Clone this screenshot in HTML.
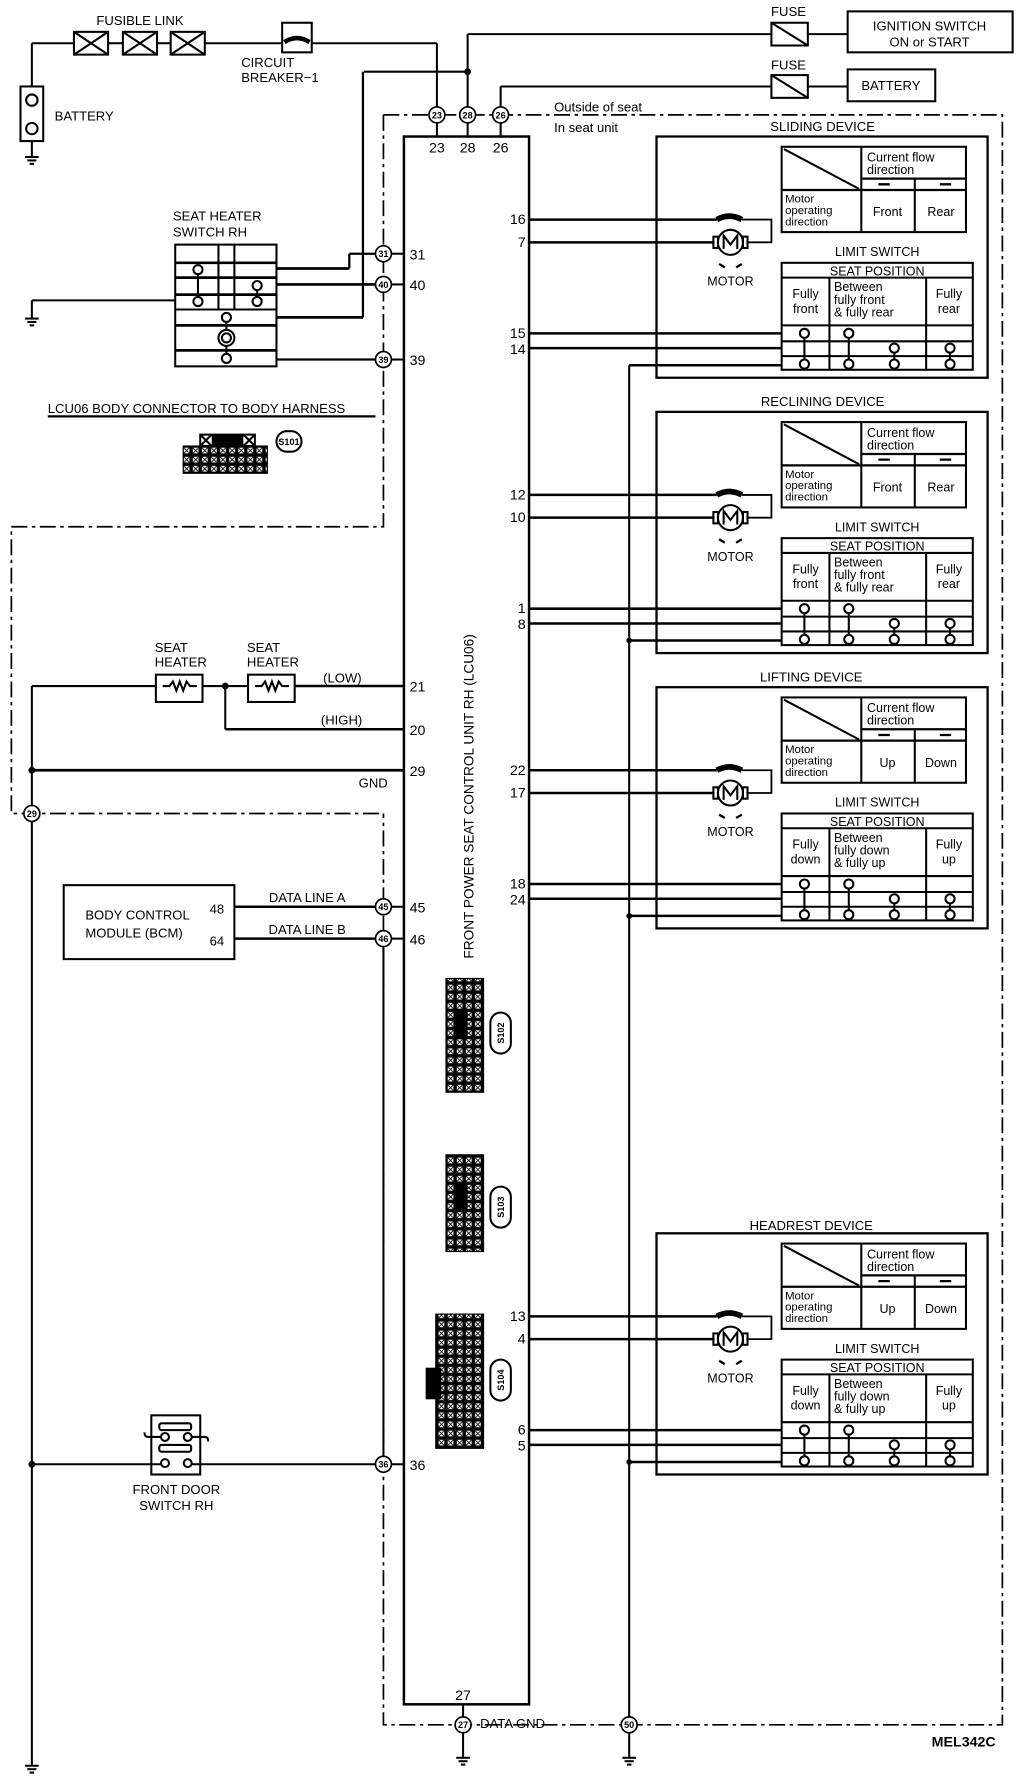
<!DOCTYPE html>
<html><head><meta charset="utf-8"><style>
html,body{margin:0;padding:0;background:#fff}
svg{display:block}
text{font-family:"Liberation Sans",sans-serif;fill:#000}
</style></head><body>
<svg width="1024" height="1776" viewBox="0 0 900 1561" preserveAspectRatio="none" xmlns="http://www.w3.org/2000/svg">
<defs>
<pattern id="cells" width="8" height="8" patternUnits="userSpaceOnUse">
<rect width="8" height="8" fill="#000"/><rect x="1.5" y="1.5" width="5" height="5" fill="#fff"/>
<path d="M1.5 1.5L6.5 6.5M6.5 1.5L1.5 6.5" stroke="#000" stroke-width="0.8"/>
</pattern>
</defs>
<g stroke="#000" fill="none" stroke-width="1.8">
<!-- battery -->
<rect x="18" y="76" width="20" height="48"/>
<line x1="28" y1="76" x2="28" y2="38"/><line x1="28" y1="38" x2="65" y2="38"/>
<line x1="28" y1="124" x2="28" y2="138"/>
<line x1="22" y1="138" x2="34" y2="138"/><line x1="24" y1="141" x2="32" y2="141"/><line x1="26" y1="144" x2="30" y2="144"/>
<circle cx="28" cy="88" r="5"/><circle cx="28" cy="113" r="5"/>
<!-- fusible link -->
<rect x="65" y="28" width="30" height="20"/><path d="M65 28L95 48M95 28L65 48"/>
<line x1="95" y1="38" x2="108" y2="38"/>
<rect x="108" y="28" width="30" height="20"/><path d="M108 28L138 48M138 28L108 48"/>
<line x1="138" y1="38" x2="150" y2="38"/>
<rect x="150" y="28" width="30" height="20"/><path d="M150 28L180 48M180 28L150 48"/>
<line x1="180" y1="38" x2="248" y2="38"/>
<rect x="248" y="20" width="26" height="26"/>
<path d="M250 37 Q261 30 272 37" stroke-width="4"/>
<line x1="274" y1="38" x2="384" y2="38"/><line x1="384" y1="38" x2="384" y2="94"/>
<!-- ignition -->
<line x1="411" y1="94" x2="411" y2="30"/><line x1="411" y1="30" x2="678" y2="30"/>
<rect x="678" y="20" width="32" height="20"/><line x1="678" y1="20" x2="710" y2="40"/>
<line x1="710" y1="30" x2="745" y2="30"/>
<rect x="745" y="10" width="145" height="36"/>
<line x1="320" y1="63" x2="411" y2="63"/>
<!-- battery 2 -->
<line x1="440" y1="94" x2="440" y2="76"/><line x1="440" y1="76" x2="678" y2="76"/>
<rect x="678" y="66" width="32" height="20"/><line x1="678" y1="66" x2="710" y2="86"/>
<line x1="710" y1="76" x2="745" y2="76"/>
<rect x="745" y="61" width="77" height="28"/>
<!-- dashed boundary -->
<g stroke-dasharray="14,4,3,4" stroke-width="1.5">
<path d="M337 101H881V1516H337V715M337 101V463H10V715H337"/>
</g>
<line x1="384" y1="108" x2="384" y2="120"/><line x1="411" y1="108" x2="411" y2="120"/><line x1="440" y1="108" x2="440" y2="120"/>
<!-- control unit -->
<rect x="355" y="120" width="110" height="1378" stroke-width="2.2"/>
<!-- seat heater switch -->
<rect x="154" y="215" width="89" height="107"/>
<line x1="154" y1="231" x2="243" y2="231" stroke-width="2.4"/>
<line x1="154" y1="244" x2="243" y2="244" stroke-width="2.4"/>
<line x1="154" y1="259" x2="243" y2="259" stroke-width="2.4"/>
<line x1="154" y1="272" x2="243" y2="272"/>
<line x1="154" y1="286" x2="243" y2="286" stroke-width="2.4"/>
<line x1="154" y1="308" x2="243" y2="308" stroke-width="2.4"/>
<line x1="192" y1="215" x2="192" y2="272"/><line x1="206" y1="215" x2="206" y2="272"/>
<circle cx="174" cy="237" r="4"/><line x1="174" y1="241" x2="174" y2="261"/><circle cx="174" cy="265" r="4"/>
<circle cx="226" cy="251" r="4"/><line x1="226" y1="255" x2="226" y2="261"/><circle cx="226" cy="265" r="4"/>
<circle cx="199" cy="279" r="4"/><line x1="199" y1="283" x2="199" y2="315"/><circle cx="199" cy="297" r="7" fill="#fff"/><circle cx="199" cy="297" r="4"/><circle cx="199" cy="315" r="4" fill="#fff"/>
<line x1="28" y1="264" x2="154" y2="264"/><line x1="28" y1="264" x2="28" y2="280"/>
<line x1="22" y1="280" x2="34" y2="280"/><line x1="24" y1="283" x2="32" y2="283"/><line x1="26" y1="286" x2="30" y2="286"/>
<line x1="243" y1="236" x2="307" y2="236" stroke-width="2.4"/><line x1="307" y1="236" x2="307" y2="223" stroke-width="2"/><line x1="307" y1="223" x2="330" y2="223" stroke-width="2"/>
<line x1="243" y1="250" x2="330" y2="250" stroke-width="2.4"/>
<line x1="243" y1="279" x2="319" y2="279" stroke-width="2.4"/><line x1="319" y1="279" x2="319" y2="63" stroke-width="2"/>
<line x1="243" y1="316" x2="330" y2="316" stroke-width="2"/>
<line x1="344" y1="223" x2="355" y2="223"/><line x1="344" y1="250" x2="355" y2="250"/><line x1="344" y1="316" x2="355" y2="316"/>
<line x1="42" y1="366" x2="330" y2="366" stroke-width="2"/>
<!-- S101 connector -->
<rect x="176" y="382" width="48" height="10"/><rect x="187" y="383" width="26" height="8" fill="#000"/>
<path d="M176 382L186 392M186 382L176 392M214 382L224 392M224 382L214 392"/>
<rect x="161" y="392" width="74" height="24" fill="url(#cells)" stroke-width="1"/>
<rect x="243" y="379" width="22" height="18" rx="9"/>
<!-- seat heaters -->
<line x1="28" y1="603" x2="28" y2="1552"/>
<line x1="28" y1="603" x2="137" y2="603"/>
<rect x="137" y="593" width="41" height="24"/>
<path d="M143 603h6l3-4 3 8 3-8 3 8 3-8 3 4h6"/>
<line x1="178" y1="603" x2="218" y2="603"/>
<rect x="218" y="593" width="41" height="24"/>
<path d="M224 603h6l3-4 3 8 3-8 3 8 3-8 3 4h6"/>
<line x1="259" y1="603" x2="355" y2="603" stroke-width="2.2"/>
<line x1="198" y1="603" x2="198" y2="641"/><line x1="198" y1="641" x2="355" y2="641" stroke-width="2.2"/>
<line x1="28" y1="677" x2="355" y2="677" stroke-width="2.4"/>
<!-- BCM -->
<rect x="56" y="778" width="150" height="65"/>
<line x1="206" y1="797" x2="330" y2="797" stroke-width="2.2"/><line x1="344" y1="797" x2="355" y2="797"/>
<line x1="206" y1="825" x2="330" y2="825" stroke-width="2.2"/><line x1="344" y1="825" x2="355" y2="825"/>
<line x1="337" y1="832" x2="337" y2="1280"/>
<!-- door switch -->
<rect x="133" y="1244" width="43" height="52"/>
<rect x="140" y="1251" width="28" height="6" rx="2"/><rect x="140" y="1270" width="28" height="6" rx="2"/>
<circle cx="145" cy="1263" r="3.5"/><circle cx="165" cy="1263" r="3.5"/>
<circle cx="145" cy="1286" r="3.5"/><circle cx="165" cy="1286" r="3.5"/>
<path d="M141 1263H130q-3 0-3-4M169 1263H180q3 0 3 4"/>
<line x1="28" y1="1287" x2="141" y2="1287"/><line x1="169" y1="1287" x2="330" y2="1287"/><line x1="344" y1="1287" x2="355" y2="1287"/>
<!-- connectors S102-S104 -->
<rect x="392" y="860" width="33" height="100" fill="url(#cells)" stroke-width="1"/>
<rect x="400" y="890" width="10" height="22" fill="#000"/>
<rect x="392" y="1015" width="33" height="85" fill="url(#cells)" stroke-width="1"/>
<rect x="400" y="1040" width="10" height="24" fill="#000"/>
<rect x="383" y="1155" width="42" height="118" fill="url(#cells)" stroke-width="1"/>
<rect x="375" y="1203" width="12" height="26" fill="#000"/>
<rect x="431" y="890" width="18" height="36" rx="9"/>
<rect x="431" y="1043" width="18" height="36" rx="9"/>
<rect x="431" y="1195" width="18" height="36" rx="9"/>
<!-- bottom grounds -->
<line x1="407" y1="1498" x2="407" y2="1509"/><line x1="407" y1="1523" x2="407" y2="1545"/>
<line x1="401" y1="1545" x2="413" y2="1545"/><line x1="403" y1="1548" x2="411" y2="1548"/><line x1="405" y1="1551" x2="409" y2="1551"/>
<line x1="553" y1="321" x2="553" y2="1509"/><line x1="553" y1="1523" x2="553" y2="1545"/>
<line x1="547" y1="1545" x2="559" y2="1545"/><line x1="549" y1="1548" x2="557" y2="1548"/><line x1="551" y1="1551" x2="555" y2="1551"/>
<line x1="22" y1="1552" x2="34" y2="1552"/><line x1="24" y1="1555" x2="32" y2="1555"/><line x1="26" y1="1558" x2="30" y2="1558"/>
</g>
<g fill="#000"><circle cx="411" cy="63" r="3"/><circle cx="198" cy="603" r="3"/><circle cx="28" cy="677" r="3"/><circle cx="28" cy="1287" r="3"/>
<circle cx="553" cy="563" r="2.5"/><circle cx="553" cy="805" r="2.5"/><circle cx="553" cy="1285" r="2.5"/></g>
<g stroke="#000" fill="#fff" stroke-width="1.5">
<circle cx="384" cy="101" r="7"/><circle cx="411" cy="101" r="7"/><circle cx="440" cy="101" r="7"/>
<circle cx="337" cy="223" r="7"/><circle cx="337" cy="250" r="7"/><circle cx="337" cy="316" r="7"/>
<circle cx="28" cy="715" r="7"/><circle cx="337" cy="797" r="7"/><circle cx="337" cy="825" r="7"/><circle cx="337" cy="1287" r="7"/>
<circle cx="407" cy="1516" r="7"/><circle cx="553" cy="1516" r="7"/>
</g>
<g font-size="8" text-anchor="middle" font-weight="bold">
<text x="384" y="104">23</text><text x="411" y="104">28</text><text x="440" y="104">26</text>
<text x="337" y="226">31</text><text x="337" y="253">40</text><text x="337" y="319">39</text>
<text x="28" y="718">29</text><text x="337" y="800">45</text><text x="337" y="828">46</text><text x="337" y="1290">36</text>
<text x="407" y="1519">27</text><text x="553" y="1519">50</text>
<text x="254" y="391">S101</text>
<text transform="translate(443,908) rotate(-90)">S102</text>
<text transform="translate(443,1061) rotate(-90)">S103</text>
<text transform="translate(443,1213) rotate(-90)">S104</text>
</g>
<g font-size="11.5">
<text x="123" y="22" text-anchor="middle">FUSIBLE LINK</text>
<text x="212" y="59">CIRCUIT</text><text x="212" y="72">BREAKER−1</text>
<text x="48" y="106">BATTERY</text>
<text x="693" y="14" text-anchor="middle">FUSE</text><text x="693" y="61" text-anchor="middle">FUSE</text>
<text x="817" y="27" text-anchor="middle">IGNITION SWITCH</text><text x="817" y="41" text-anchor="middle">ON or START</text>
<text x="783" y="79" text-anchor="middle">BATTERY</text>
<text x="487" y="98">Outside of seat</text><text x="487" y="116">In seat unit</text>
<text x="152" y="194">SEAT HEATER</text><text x="152" y="208">SWITCH RH</text>
<text x="42" y="363">LCU06 BODY CONNECTOR TO BODY HARNESS</text>
<text x="136" y="573">SEAT</text><text x="136" y="586">HEATER</text>
<text x="217" y="573">SEAT</text><text x="217" y="586">HEATER</text>
<text x="284" y="600">(LOW)</text><text x="282" y="637">(HIGH)</text>
<text x="328" y="692" text-anchor="middle">GND</text>
<text x="75" y="808">BODY CONTROL</text><text x="75" y="824">MODULE (BCM)</text>
<text x="197" y="803" text-anchor="end">48</text><text x="197" y="831" text-anchor="end">64</text>
<text x="270" y="793" text-anchor="middle">DATA LINE A</text><text x="270" y="821" text-anchor="middle">DATA LINE B</text>
<text x="155" y="1313" text-anchor="middle">FRONT DOOR</text><text x="155" y="1327" text-anchor="middle">SWITCH RH</text>
<text x="422" y="1519">DATA GND</text>
<text x="847" y="1535" text-anchor="middle" font-weight="bold" font-size="12.5">MEL342C</text>
<text transform="translate(416,700) rotate(-90)" text-anchor="middle" font-size="12">FRONT POWER SEAT CONTROL UNIT RH (LCU06)</text>
</g>
<g font-size="12.5">
<text x="384" y="134" text-anchor="middle">23</text><text x="411" y="134" text-anchor="middle">28</text><text x="440" y="134" text-anchor="middle">26</text>
<text x="360" y="228">31</text><text x="360" y="255">40</text><text x="360" y="321">39</text>
<text x="360" y="608">21</text><text x="360" y="646">20</text><text x="360" y="682">29</text>
<text x="360" y="802">45</text><text x="360" y="830">46</text><text x="360" y="1292">36</text>
<text x="407" y="1494" text-anchor="middle">27</text>
</g>

<g id="dev1">
<g stroke="#000" fill="none" stroke-width="1.8">
<rect x="577" y="120" width="291" height="212" stroke-width="2"/>
<rect x="687" y="129" width="162" height="75"/>
<line x1="757" y1="129" x2="757" y2="204"/><line x1="687" y1="167" x2="849" y2="167" stroke-width="2"/>
<line x1="757" y1="157" x2="849" y2="157" stroke-width="2"/><line x1="804" y1="157" x2="804" y2="204"/>
<line x1="689" y1="131" x2="755" y2="166"/>
<path d="M772 162h10M826 162h10" stroke-width="2"/>
<rect x="687" y="231" width="168" height="94"/>
<line x1="687" y1="244" x2="855" y2="244"/>
<line x1="729" y1="244" x2="729" y2="325"/><line x1="814" y1="244" x2="814" y2="325"/>
<line x1="687" y1="286" x2="855" y2="286"/><line x1="687" y1="300" x2="855" y2="300"/><line x1="687" y1="313" x2="855" y2="313"/>
<circle cx="707" cy="293" r="4"/><circle cx="746" cy="293" r="4"/>
<circle cx="786" cy="306" r="4"/><circle cx="835" cy="306" r="4"/>
<circle cx="707" cy="320" r="4"/><circle cx="746" cy="320" r="4"/><circle cx="786" cy="320" r="4"/><circle cx="835" cy="320" r="4"/>
<line x1="707" y1="297" x2="707" y2="316"/><line x1="746" y1="297" x2="746" y2="316"/>
<line x1="786" y1="310" x2="786" y2="316"/><line x1="835" y1="310" x2="835" y2="316"/>
<line x1="465" y1="293" x2="687" y2="293" stroke-width="2.2"/>
<line x1="465" y1="306" x2="687" y2="306" stroke-width="2.2"/>
<line x1="553" y1="321" x2="687" y2="321" stroke-width="2.2"/>
<line x1="465" y1="193" x2="630" y2="193" stroke-width="2.2"/>
<path d="M630 193 q11 -6 22 0" stroke-width="5"/>
<path d="M652 193H678V213H656" stroke-width="1.6"/>
<line x1="465" y1="213" x2="628" y2="213" stroke-width="2.2"/>
<circle cx="642" cy="213" r="11"/>
<rect x="627" y="208" width="4" height="10"/><rect x="653" y="208" width="4" height="10"/>
<path d="M636 219V207l6 8 6-8v12"/>
<path d="M632 232l5 3M652 232l-5 3" stroke-width="2"/>
</g>
</g>
<g font-size="11.5" text-anchor="middle">
<text x="723" y="115">SLIDING DEVICE</text>
<text x="723" y="357">RECLINING DEVICE</text>
<text x="713" y="599">LIFTING DEVICE</text>
<text x="713" y="1081">HEADREST DEVICE</text>
</g>
<g transform="translate(0,242)"><use href="#dev1"/></g>
<g transform="translate(0,484)"><use href="#dev1"/></g>
<g transform="translate(0,964)"><use href="#dev1"/></g>

<g font-size="11">
<g>
<text x="762" y="142">Current flow</text><text x="762" y="153">direction</text>
<text x="690" y="178" font-size="10">Motor</text><text x="690" y="188" font-size="10">operating</text><text x="690" y="198" font-size="10">direction</text>
<text x="780" y="190" text-anchor="middle">Front</text><text x="827" y="190" text-anchor="middle">Rear</text>
<text x="771" y="225" text-anchor="middle">LIMIT SWITCH</text><text x="771" y="242" text-anchor="middle">SEAT POSITION</text>
<text x="708" y="262" text-anchor="middle">Fully</text><text x="708" y="275" text-anchor="middle">front</text>
<text x="733" y="256">Between</text><text x="733" y="267">fully front</text><text x="733" y="278">&amp; fully rear</text>
<text x="834" y="262" text-anchor="middle">Fully</text><text x="834" y="275" text-anchor="middle">rear</text>
<text x="642" y="251" text-anchor="middle">MOTOR</text>
</g>
<g transform="translate(0,242)">
<text x="762" y="142">Current flow</text><text x="762" y="153">direction</text>
<text x="690" y="178" font-size="10">Motor</text><text x="690" y="188" font-size="10">operating</text><text x="690" y="198" font-size="10">direction</text>
<text x="780" y="190" text-anchor="middle">Front</text><text x="827" y="190" text-anchor="middle">Rear</text>
<text x="771" y="225" text-anchor="middle">LIMIT SWITCH</text><text x="771" y="242" text-anchor="middle">SEAT POSITION</text>
<text x="708" y="262" text-anchor="middle">Fully</text><text x="708" y="275" text-anchor="middle">front</text>
<text x="733" y="256">Between</text><text x="733" y="267">fully front</text><text x="733" y="278">&amp; fully rear</text>
<text x="834" y="262" text-anchor="middle">Fully</text><text x="834" y="275" text-anchor="middle">rear</text>
<text x="642" y="251" text-anchor="middle">MOTOR</text>
</g>
<g transform="translate(0,484)">
<text x="762" y="142">Current flow</text><text x="762" y="153">direction</text>
<text x="690" y="178" font-size="10">Motor</text><text x="690" y="188" font-size="10">operating</text><text x="690" y="198" font-size="10">direction</text>
<text x="780" y="190" text-anchor="middle">Up</text><text x="827" y="190" text-anchor="middle">Down</text>
<text x="771" y="225" text-anchor="middle">LIMIT SWITCH</text><text x="771" y="242" text-anchor="middle">SEAT POSITION</text>
<text x="708" y="262" text-anchor="middle">Fully</text><text x="708" y="275" text-anchor="middle">down</text>
<text x="733" y="256">Between</text><text x="733" y="267">fully down</text><text x="733" y="278">&amp; fully up</text>
<text x="834" y="262" text-anchor="middle">Fully</text><text x="834" y="275" text-anchor="middle">up</text>
<text x="642" y="251" text-anchor="middle">MOTOR</text>
</g>
<g transform="translate(0,964)">
<text x="762" y="142">Current flow</text><text x="762" y="153">direction</text>
<text x="690" y="178" font-size="10">Motor</text><text x="690" y="188" font-size="10">operating</text><text x="690" y="198" font-size="10">direction</text>
<text x="780" y="190" text-anchor="middle">Up</text><text x="827" y="190" text-anchor="middle">Down</text>
<text x="771" y="225" text-anchor="middle">LIMIT SWITCH</text><text x="771" y="242" text-anchor="middle">SEAT POSITION</text>
<text x="708" y="262" text-anchor="middle">Fully</text><text x="708" y="275" text-anchor="middle">down</text>
<text x="733" y="256">Between</text><text x="733" y="267">fully down</text><text x="733" y="278">&amp; fully up</text>
<text x="834" y="262" text-anchor="middle">Fully</text><text x="834" y="275" text-anchor="middle">up</text>
<text x="642" y="251" text-anchor="middle">MOTOR</text>
</g>
</g>
<g font-size="12.5" text-anchor="end">
<text x="462" y="197">16</text><text x="462" y="217">7</text><text x="462" y="297">15</text><text x="462" y="311">14</text>
<text x="462" y="439">12</text><text x="462" y="459">10</text><text x="462" y="539">1</text><text x="462" y="553">8</text>
<text x="462" y="681">22</text><text x="462" y="701">17</text><text x="462" y="781">18</text><text x="462" y="795">24</text>
<text x="462" y="1161">13</text><text x="462" y="1181">4</text><text x="462" y="1261">6</text><text x="462" y="1275">5</text>
</g>
</svg>
</body></html>
